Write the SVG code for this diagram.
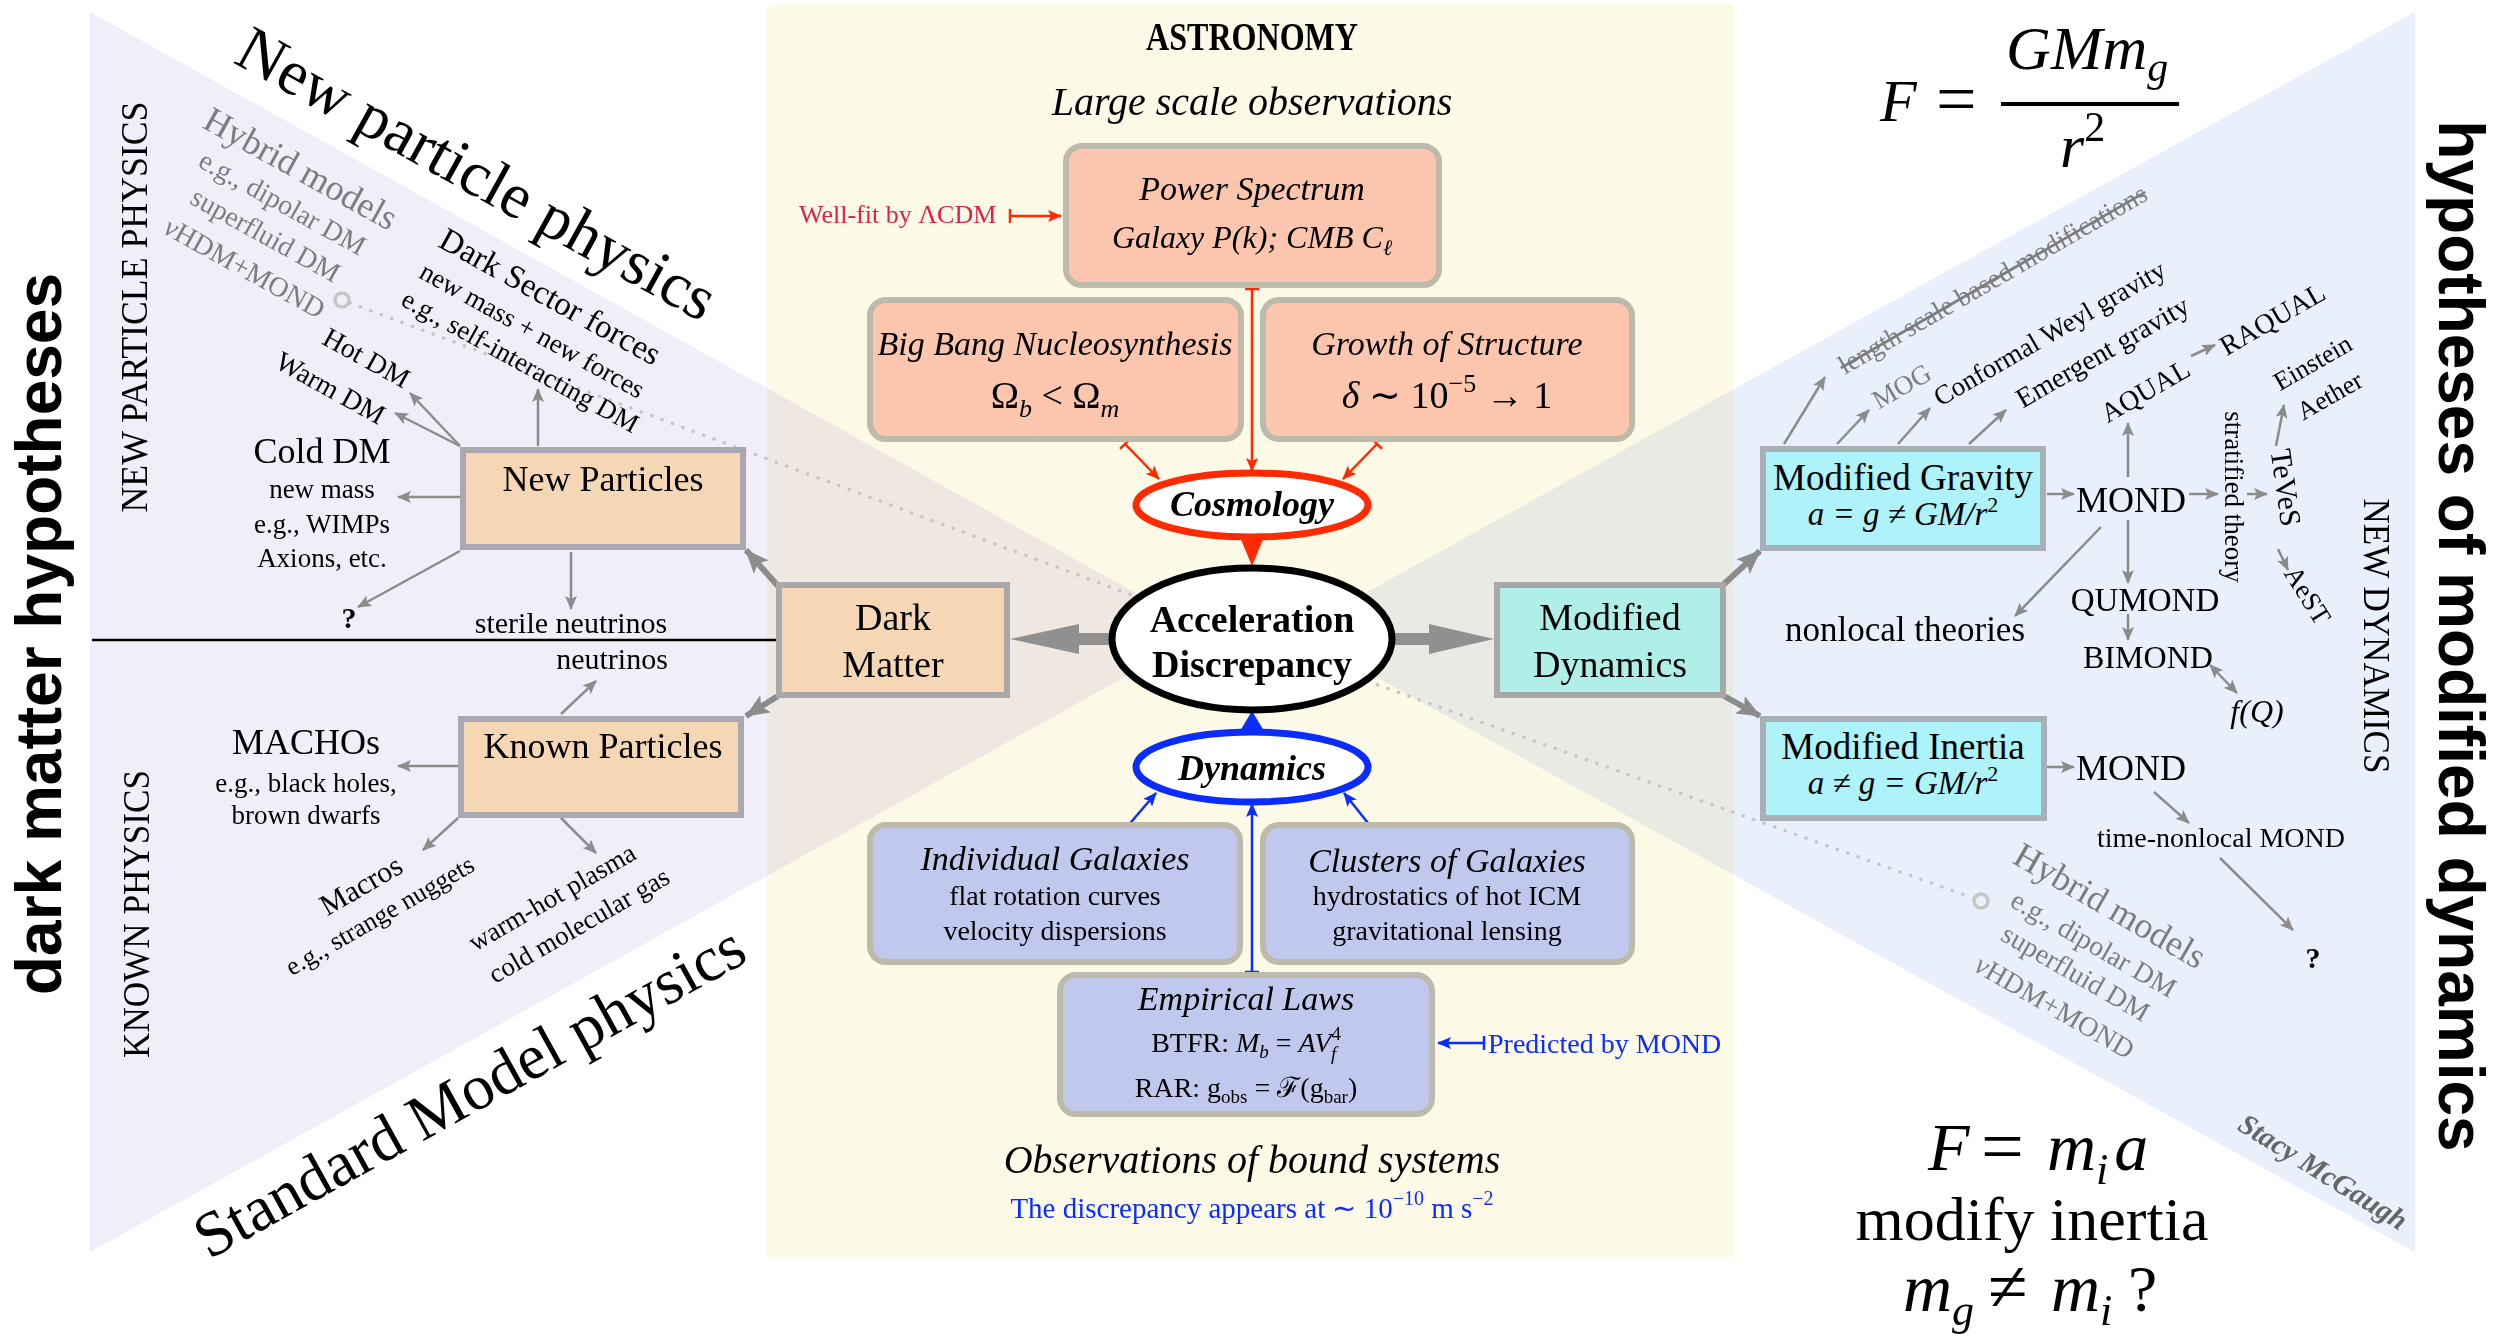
<svg xmlns="http://www.w3.org/2000/svg" width="2495" height="1339" viewBox="0 0 2495 1339">
<defs>
<style>
.s{font-family:"Liberation Serif","Times New Roman",serif}
.i{font-style:italic}
.b{font-weight:bold}
.ss{font-family:"Liberation Sans",Arial,sans-serif;font-weight:bold}
.m{text-anchor:middle}
.g{fill:#7d7d7d}
.c{fill:none;stroke:#8c8c8c;stroke-width:2.5}
.ct{fill:none;stroke:#8c8c8c;stroke-width:6}
.red{fill:none;stroke:#ff2a00;stroke-width:2.5}
.blue{fill:none;stroke:#0a2cff;stroke-width:2.5}
.rb{stroke:#bdb9ab;stroke-width:6}
.sal{fill:#fcc6ae}
.per{fill:#c1c8ee}
.peach{fill:#f5d7b5;stroke:#aaa8b0;stroke-width:6}
.aqua{fill:#adf3f9;stroke:#a6b0b6;stroke-width:6}
.dot{fill:none;stroke:#c6c6c6;stroke-width:3.5;stroke-dasharray:0.1 11;stroke-linecap:round}
</style>
<marker id="ag" viewBox="0 0 14 12" refX="13" refY="6" markerWidth="14" markerHeight="12" markerUnits="userSpaceOnUse" orient="auto-start-reverse"><path d="M0,0 L14,6 L0,12 L3,6 z" fill="#8c8c8c"/></marker>
<marker id="agt" viewBox="0 0 24 20" refX="23" refY="10" markerWidth="24" markerHeight="20" markerUnits="userSpaceOnUse" orient="auto"><path d="M0,0 L24,10 L0,20 L5,10 z" fill="#8c8c8c"/></marker>
<marker id="ar" viewBox="0 0 14 12" refX="13" refY="6" markerWidth="14" markerHeight="12" markerUnits="userSpaceOnUse" orient="auto"><path d="M0,0 L14,6 L0,12 L3,6 z" fill="#ff2a00"/></marker>
<marker id="ab" viewBox="0 0 14 12" refX="13" refY="6" markerWidth="14" markerHeight="12" markerUnits="userSpaceOnUse" orient="auto"><path d="M0,0 L14,6 L0,12 L3,6 z" fill="#0a2cff"/></marker>
<marker id="tr" viewBox="-2 -8 4 16" refX="0" refY="0" markerWidth="4" markerHeight="16" markerUnits="userSpaceOnUse" orient="auto"><path d="M0,-7 V7" stroke="#ff2a00" stroke-width="2.5"/></marker>
<marker id="tb" viewBox="-2 -8 4 16" refX="0" refY="0" markerWidth="4" markerHeight="16" markerUnits="userSpaceOnUse" orient="auto"><path d="M0,-7 V7" stroke="#0a2cff" stroke-width="2.5"/></marker>
</defs>

<rect width="2495" height="1339" fill="#ffffff"/>

<g id="backgrounds">
<rect x="767" y="4" width="966" height="1253" fill="#fdf9e7"/>
<polygon points="90,12 90,1252 1206,632" fill="#f1eefa" style="mix-blend-mode:multiply"/>
<polygon points="2415,12 2415,1252 1295,632" fill="#eaf0fb" style="mix-blend-mode:multiply"/>
<path class="dot" d="M350,303 L1252,640"/>
<path class="dot" d="M1252,640 L1973,898"/>
<circle cx="342" cy="300" r="7" fill="none" stroke="#c6c6c6" stroke-width="3.5"/>
<circle cx="1981" cy="901" r="7" fill="none" stroke="#c6c6c6" stroke-width="3.5"/>
<line x1="92" y1="640" x2="776" y2="640" stroke="#000" stroke-width="2.5"/>
</g>

<g id="titles">
<text class="ss" font-size="64" transform="translate(61,634) rotate(-90)" text-anchor="middle">dark matter hypotheses</text>
<text class="ss" font-size="64" transform="translate(2439,636) rotate(90)" text-anchor="middle">hypotheses of modified dynamics</text>
<text class="s" font-size="64" transform="translate(232,62) rotate(29)">New particle physics</text>
<text class="s" font-size="64" transform="translate(209,1260) rotate(-29)">Standard Model physics</text>
<text class="s m" font-size="38" transform="translate(147,307) rotate(-90)" textLength="411" lengthAdjust="spacingAndGlyphs">NEW PARTICLE PHYSICS</text>
<text class="s m" font-size="38" transform="translate(149,914) rotate(-90)" textLength="288" lengthAdjust="spacingAndGlyphs">KNOWN PHYSICS</text>
<text class="s m" font-size="38" transform="translate(2364,636) rotate(90)" textLength="275" lengthAdjust="spacingAndGlyphs">NEW DYNAMICS</text>
<text class="s b m" x="1252" y="50" font-size="40" textLength="212" lengthAdjust="spacingAndGlyphs">ASTRONOMY</text>
<text class="s i m" x="1252" y="115" font-size="40">Large scale observations</text>
<text class="s i m" x="1252" y="1173" font-size="40">Observations of bound systems</text>
<text class="s m" x="1252" y="1218" font-size="29" fill="#0a2cff">The discrepancy appears at  ∼ 10<tspan font-size="20" dy="-13">−10</tspan><tspan dy="13"> m s</tspan><tspan font-size="20" dy="-13">−2</tspan></text>
<text class="s" x="799" y="223" font-size="26" fill="#e0204a">Well-fit by ΛCDM</text>
<text class="s" x="1488" y="1053" font-size="28" fill="#0a2cff">Predicted by MOND</text>
</g>

<g id="formulas">
<text class="s i" font-size="60" x="1880" y="121">F</text>
<text class="s" font-size="72" x="1936" y="123">=</text>
<line x1="2001" y1="104" x2="2179" y2="104" stroke="#000" stroke-width="4"/>
<text class="s i" font-size="62" x="2006" y="69">GMm<tspan font-size="42" dy="12">g</tspan></text>
<text class="s i" font-size="62" x="2060" y="167">r<tspan font-style="normal" font-size="42" dy="-26">2</tspan></text>
<text class="s i" font-size="68" x="1928" y="1170">F</text>
<text class="s" font-size="76" x="1981" y="1172">=</text>
<text class="s i" font-size="68" x="2047" y="1170">m<tspan font-size="44" dy="14">i</tspan><tspan dy="-14" dx="6">a</tspan></text>
<text class="s m" font-size="62" x="2032" y="1240">modify inertia</text>
<text class="s i" font-size="68" x="1903" y="1311">m<tspan font-size="44" dy="14">g</tspan></text>
<text class="s" font-size="72" x="1988" y="1311">≠</text>
<text class="s i" font-size="68" x="2051" y="1311">m<tspan font-size="44" dy="14">i</tspan></text>
<text class="s" font-size="66" x="2128" y="1311">?</text>
<text class="s i b" font-size="29" fill="#666" transform="translate(2318,1180) rotate(32)" text-anchor="middle">Stacy McGaugh</text>
</g>

<g id="connectors">
<line class="c" x1="538" y1="446" x2="538" y2="389" marker-end="url(#ag)"/>
<line class="c" x1="460" y1="446" x2="410" y2="393" marker-end="url(#ag)"/>
<line class="c" x1="460" y1="446" x2="395" y2="413" marker-end="url(#ag)"/>
<line class="c" x1="460" y1="497" x2="398" y2="497" marker-end="url(#ag)"/>
<line class="c" x1="460" y1="551" x2="358" y2="607" marker-end="url(#ag)"/>
<line class="c" x1="571" y1="552" x2="571" y2="609" marker-end="url(#ag)"/>
<line class="c" x1="561" y1="714" x2="596" y2="681" marker-end="url(#ag)"/>
<line class="c" x1="458" y1="766" x2="398" y2="766" marker-end="url(#ag)"/>
<line class="c" x1="458" y1="818" x2="423" y2="850" marker-end="url(#ag)"/>
<line class="c" x1="561" y1="818" x2="596" y2="853" marker-end="url(#ag)"/>
<line class="ct" x1="778" y1="586" x2="746" y2="550" marker-end="url(#agt)"/>
<line class="ct" x1="778" y1="696" x2="746" y2="716" marker-end="url(#agt)"/>
<line class="ct" x1="1724" y1="584" x2="1760" y2="551" marker-end="url(#agt)"/>
<line class="ct" x1="1724" y1="696" x2="1760" y2="716" marker-end="url(#agt)"/>
<polygon points="1115,633 1079,633 1079,624 1010,639 1079,654 1079,645 1115,645" fill="#909090"/>
<polygon points="1389,633 1429,633 1429,624 1494,639 1429,654 1429,645 1389,645" fill="#909090"/>
<line class="c" x1="1784" y1="444" x2="1825" y2="377" marker-end="url(#ag)"/>
<line class="c" x1="1837" y1="444" x2="1869" y2="410" marker-end="url(#ag)"/>
<line class="c" x1="1898" y1="444" x2="1930" y2="408" marker-end="url(#ag)"/>
<line class="c" x1="1969" y1="444" x2="2006" y2="410" marker-end="url(#ag)"/>
<line class="c" x1="2047" y1="494" x2="2074" y2="494" marker-end="url(#ag)"/>
<line class="c" x1="2128" y1="477" x2="2128" y2="423" marker-end="url(#ag)"/>
<line class="c" x1="2191" y1="356" x2="2215" y2="345" marker-end="url(#ag)"/>
<line class="c" x1="2189" y1="494" x2="2218" y2="494" marker-end="url(#ag)"/>
<line class="c" x1="2247" y1="494" x2="2267" y2="494" marker-end="url(#ag)"/>
<line class="c" x1="2276" y1="446" x2="2284" y2="405" marker-end="url(#ag)"/>
<line class="c" x1="2278" y1="549" x2="2288" y2="570" marker-end="url(#ag)"/>
<line class="c" x1="2101" y1="527" x2="2015" y2="616" marker-end="url(#ag)"/>
<line class="c" x1="2128" y1="520" x2="2128" y2="583" marker-end="url(#ag)"/>
<line class="c" x1="2128" y1="614" x2="2128" y2="640" marker-end="url(#ag)"/>
<line class="c" x1="2210" y1="665" x2="2237" y2="693" marker-start="url(#ag)" marker-end="url(#ag)"/>
<line class="c" x1="2047" y1="767" x2="2074" y2="767" marker-end="url(#ag)"/>
<line class="c" x1="2154" y1="792" x2="2189" y2="823" marker-end="url(#ag)"/>
<line class="c" x1="2220" y1="858" x2="2293" y2="930" marker-end="url(#ag)"/>
<line class="red" x1="1010" y1="216" x2="1061" y2="216" marker-start="url(#tr)" marker-end="url(#ar)"/>
<line class="red" x1="1252" y1="289" x2="1252" y2="471" marker-start="url(#tr)" marker-end="url(#ar)"/>
<line class="red" x1="1125" y1="444" x2="1159" y2="479" marker-start="url(#tr)" marker-end="url(#ar)"/>
<line class="red" x1="1377" y1="444" x2="1343" y2="479" marker-start="url(#tr)" marker-end="url(#ar)"/>
<polygon points="1240,537 1264,537 1252,566" fill="#ff2a00"/>
<line class="blue" x1="1484" y1="1043" x2="1438" y2="1043" marker-start="url(#tb)" marker-end="url(#ab)"/>
<line class="blue" x1="1252" y1="972" x2="1252" y2="804" marker-start="url(#tb)" marker-end="url(#ab)"/>
<line class="blue" x1="1126" y1="828" x2="1156" y2="793" marker-start="url(#tb)" marker-end="url(#ab)"/>
<line class="blue" x1="1372" y1="828" x2="1344" y2="793" marker-start="url(#tb)" marker-end="url(#ab)"/>
<polygon points="1240,731 1264,731 1252,711" fill="#0a2cff"/>
</g>

<g id="power-spectrum">
<rect class="sal rb" x="1066" y="146" width="373" height="139" rx="16"/>
<text class="s i m" x="1252" y="200" font-size="34">Power Spectrum</text>
<text class="s i m" x="1252" y="248" font-size="32">Galaxy P(k); CMB C<tspan font-size="22" dy="7">ℓ</tspan></text>
</g>
<g id="bbn">
<rect class="sal rb" x="870" y="300" width="371" height="139" rx="16"/>
<text class="s i m" x="1055" y="355" font-size="34">Big Bang Nucleosynthesis</text>
<text class="s m" x="1055" y="408" font-size="38">Ω<tspan class="i" font-size="26" dy="9">b</tspan><tspan dy="-9"> &lt; Ω</tspan><tspan class="i" font-size="26" dy="9">m</tspan></text>
</g>
<g id="growth">
<rect class="sal rb" x="1263" y="300" width="369" height="139" rx="16"/>
<text class="s i m" x="1447" y="355" font-size="34">Growth of Structure</text>
<text class="s m" x="1447" y="408" font-size="38"><tspan class="i">δ</tspan> ∼ 10<tspan font-size="26" dy="-16">−5</tspan><tspan dy="16"> → 1</tspan></text>
</g>
<g id="cosmology">
<ellipse cx="1252" cy="505" rx="116" ry="32" fill="#fff" stroke="#ff2a00" stroke-width="7"/>
<text class="s i b m" x="1252" y="516" font-size="36">Cosmology</text>
</g>
<g id="acceleration-discrepancy">
<ellipse cx="1252" cy="639" rx="140" ry="71" fill="#fff" stroke="#000" stroke-width="7"/>
<text class="s b m" x="1252" y="632" font-size="38">Acceleration</text>
<text class="s b m" x="1252" y="677" font-size="38">Discrepancy</text>
</g>
<g id="dynamics">
<ellipse cx="1252" cy="767" rx="116" ry="35" fill="#fff" stroke="#0a2cff" stroke-width="7"/>
<text class="s i b m" x="1252" y="780" font-size="36">Dynamics</text>
</g>
<g id="individual-galaxies">
<rect class="per rb" x="870" y="825" width="370" height="137" rx="16"/>
<text class="s i m" x="1055" y="870" font-size="34">Individual Galaxies</text>
<text class="s m" x="1055" y="905" font-size="28">flat rotation curves</text>
<text class="s m" x="1055" y="940" font-size="28">velocity dispersions</text>
</g>
<g id="clusters">
<rect class="per rb" x="1263" y="825" width="369" height="137" rx="16"/>
<text class="s i m" x="1447" y="872" font-size="34">Clusters of Galaxies</text>
<text class="s m" x="1447" y="905" font-size="28">hydrostatics of hot ICM</text>
<text class="s m" x="1447" y="940" font-size="28">gravitational lensing</text>
</g>
<g id="empirical-laws">
<rect class="per rb" x="1060" y="975" width="372" height="139" rx="16"/>
<text class="s i m" x="1246" y="1010" font-size="34">Empirical Laws</text>
<text class="s m" x="1246" y="1052" font-size="28">BTFR: <tspan class="i">M</tspan><tspan class="i" font-size="19" dy="6">b</tspan><tspan dy="-6"> = </tspan><tspan class="i">AV</tspan><tspan font-size="19" dy="-12">4</tspan><tspan class="i" font-size="19" dx="-10" dy="20">f</tspan></text>
<text class="s m" x="1246" y="1097" font-size="28">RAR: g<tspan font-size="19" dy="6">obs</tspan><tspan dy="-6"> = ℱ(g</tspan><tspan font-size="19" dy="6">bar</tspan><tspan dy="-6">)</tspan></text>
</g>

<g id="dark-matter">
<rect class="peach" x="779" y="585" width="228" height="110" style="stroke:#a8a8a8"/>
<text class="s m" x="893" y="630" font-size="38">Dark</text>
<text class="s m" x="893" y="677" font-size="38">Matter</text>
</g>
<g id="modified-dynamics">
<rect x="1497" y="585" width="226" height="110" fill="#b0efe8" stroke="#a8a8a8" stroke-width="6"/>
<text class="s m" x="1610" y="630" font-size="38">Modified</text>
<text class="s m" x="1610" y="677" font-size="38">Dynamics</text>
</g>

<g id="new-particles">
<rect class="peach" x="463" y="450" width="280" height="97"/>
<text class="s m" x="603" y="491" font-size="36">New Particles</text>
</g>
<g id="known-particles">
<rect class="peach" x="461" y="719" width="280" height="96"/>
<text class="s m" x="603" y="758" font-size="36">Known Particles</text>
</g>

<g id="new-particle-labels">
<g class="s g m">
<text font-size="36" transform="translate(295,179) rotate(29)">Hybrid models</text>
<text font-size="28" transform="translate(278,211) rotate(29)">e.g., dipolar DM</text>
<text font-size="28" transform="translate(261,243) rotate(29)">superfluid DM</text>
<text font-size="28" transform="translate(240,276) rotate(29)"><tspan class="i">ν</tspan>HDM+MOND</text>
</g>
<g class="s m">
<text font-size="33" transform="translate(545,306) rotate(29)">Dark Sector forces</text>
<text font-size="27" transform="translate(528,338) rotate(29)">new mass + new forces</text>
<text font-size="27" transform="translate(516,369) rotate(29)">e.g., self-interacting DM</text>
<text font-size="28" transform="translate(362,366) rotate(29)">Hot DM</text>
<text font-size="28" transform="translate(326,396) rotate(29)">Warm DM</text>
<text x="322" y="463" font-size="36">Cold DM</text>
<text x="322" y="498" font-size="27">new mass</text>
<text x="322" y="533" font-size="27">e.g., WIMPs</text>
<text x="322" y="567" font-size="27">Axions, etc.</text>
<text x="349" y="628" font-size="30" font-weight="bold">?</text>
<text x="571" y="633" font-size="30">sterile neutrinos</text>
</g>
</g>
<g id="known-particle-labels" class="s m">
<text x="612" y="669" font-size="30">neutrinos</text>
<text x="306" y="754" font-size="36">MACHOs</text>
<text x="306" y="792" font-size="27">e.g., black holes,</text>
<text x="306" y="824" font-size="27">brown dwarfs</text>
<text font-size="30" transform="translate(366,894) rotate(-30)">Macros</text>
<text font-size="26" transform="translate(384,923) rotate(-30)">e.g., strange nuggets</text>
<text font-size="27" style="text-anchor:start" transform="translate(475,952) rotate(-30)">warm-hot plasma</text>
<text font-size="27" style="text-anchor:start" transform="translate(495,984) rotate(-30)">cold molecular gas</text>
</g>

<g id="modified-gravity">
<rect class="aqua" x="1763" y="449" width="280" height="99"/>
<text class="s m" x="1903" y="490" font-size="37">Modified Gravity</text>
<text class="s i m" x="1903" y="525" font-size="33">a = g ≠ GM/r<tspan font-style="normal" font-size="22" dy="-13">2</tspan></text>
</g>
<g id="modified-inertia">
<rect class="aqua" x="1763" y="719" width="281" height="99"/>
<text class="s m" x="1903" y="759" font-size="37">Modified Inertia</text>
<text class="s i m" x="1903" y="794" font-size="33">a ≠ g = GM/r<tspan font-style="normal" font-size="22" dy="-13">2</tspan></text>
</g>

<g id="modified-gravity-labels" class="s m">
<text class="g" font-size="27" style="text-decoration:line-through" transform="translate(1997,287) rotate(-30)">length scale based modifications</text>
<text class="g" font-size="27" transform="translate(1906,394) rotate(-30)">MOG</text>
<text font-size="27" transform="translate(2054,341) rotate(-30)">Conformal Weyl gravity</text>
<text font-size="28" transform="translate(2107,360) rotate(-30)">Emergent gravity</text>
<text font-size="28" transform="translate(2150,399) rotate(-30)">AQUAL</text>
<text font-size="28" transform="translate(2277,327) rotate(-30)">RAQUAL</text>
<text font-size="26" transform="translate(2317,370) rotate(-30)">Einstein</text>
<text font-size="26" transform="translate(2334,403) rotate(-30)">Aether</text>
<text font-size="27" transform="translate(2225,497) rotate(90)">stratified theory</text>
<text font-size="30" transform="translate(2276,489) rotate(82)">TeVeS</text>
<text font-size="27" transform="translate(2300,600) rotate(58)">AeST</text>
<text x="2131" y="512" font-size="36">MOND</text>
<text x="1905" y="641" font-size="35">nonlocal theories</text>
<text x="2145" y="611" font-size="33">QUMOND</text>
<text x="2148" y="668" font-size="32">BIMOND</text>
<text class="i" x="2257" y="722" font-size="32">f(Q)</text>
</g>
<g id="modified-inertia-labels" class="s m">
<text x="2131" y="780" font-size="36">MOND</text>
<text x="2221" y="847" font-size="28">time-nonlocal MOND</text>
<text x="2313" y="968" font-size="30" font-weight="bold">?</text>
<g class="g">
<text font-size="36" transform="translate(2104,916) rotate(30)">Hybrid models</text>
<text font-size="28" transform="translate(2089,952) rotate(30)">e.g., dipolar DM</text>
<text font-size="28" transform="translate(2071,981) rotate(30)">superfluid DM</text>
<text font-size="28" transform="translate(2050,1015) rotate(30)"><tspan class="i">ν</tspan>HDM+MOND</text>
</g>
</g>
</svg>
